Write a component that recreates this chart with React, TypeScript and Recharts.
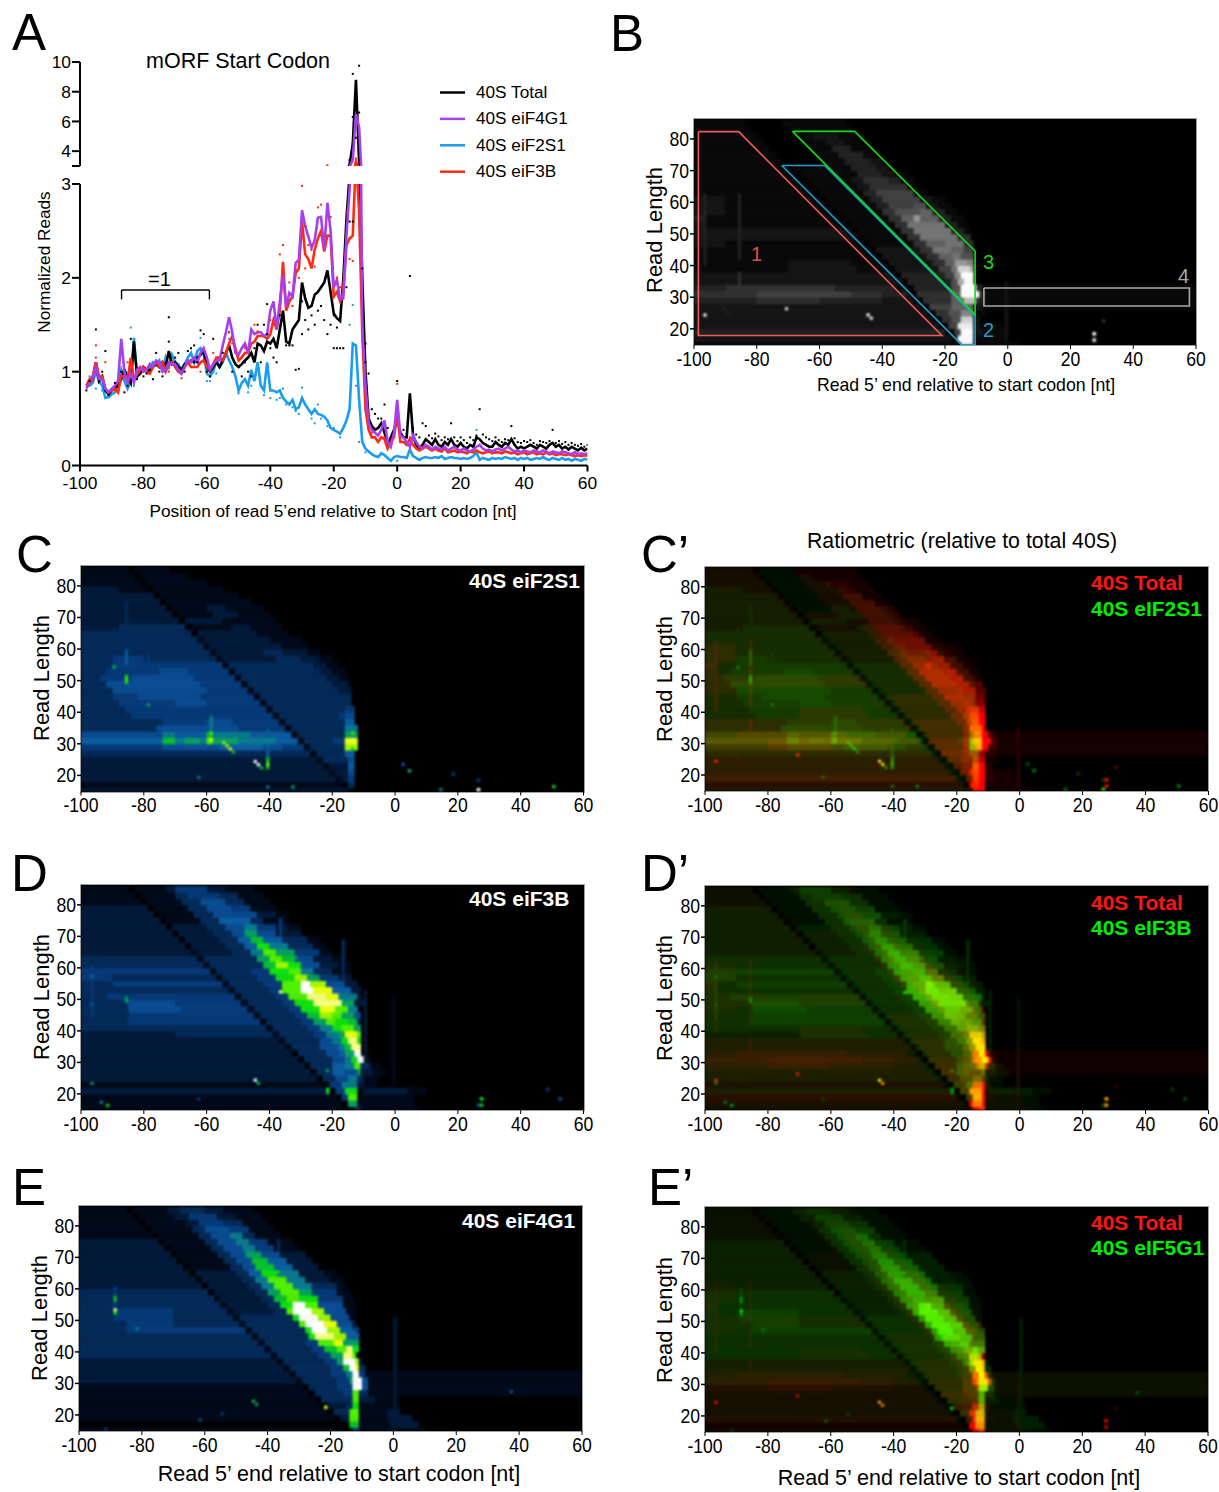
import React from 'react';
import { ComposedChart, ScatterChart, Scatter, Line, XAxis, YAxis, ReferenceLine } from 'recharts';

const FONT = '"Liberation Sans", Arial, sans-serif';

// ---------- Panel A ----------
const positions: number[] = [];
for (let p = -98; p <= 60; p++) positions.push(p);

const totalLine = [
  .85,.88,.92,1.1,.9,.95,.8,.76,.8,.82,
  .85,.92,1.02,.95,.88,1.32,.95,.98,1.05,1.02,
  1.0,1.05,1.08,1.05,1.1,1.05,1.22,1.08,1.1,1.05,
  1.02,1.08,1.1,1.12,1.1,1.15,1.18,1.22,1.05,1.0,
  1.05,1.1,1.05,1.12,1.2,1.28,1.15,1.08,1.05,1.08,
  1.12,1.15,1.2,1.1,1.3,1.28,1.22,1.32,1.3,1.35,
  1.25,1.45,1.65,1.32,1.3,1.45,1.5,1.55,1.95,1.78,
  1.68,1.7,1.82,1.85,1.9,1.95,2.08,1.85,1.62,1.57,
  1.54,1.98,2.62,3.1,4.5,8.8,3.2,2.0,1.0,.5,
  .42,.38,.4,.45,.35,.22,.3,.38,.5,.35,
  .3,.3,.77,.32,.22,.18,.22,.28,.25,.22,
  .28,.22,.2,.25,.22,.28,.22,.2,.24,.2,
  .18,.22,.2,.3,.28,.24,.22,.2,.2,.25,
  .22,.2,.24,.22,.28,.22,.18,.2,.18,.2,
  .22,.2,.18,.22,.2,.18,.22,.24,.2,.22,
  .18,.2,.17,.2,.18,.16,.19,.16,.18,
];
const eif2s1Line = [
  .85,.85,.88,1.0,.9,.85,.72,.73,.76,.78,
  .88,1.02,.9,.82,.9,1.36,.95,.98,1.03,1.0,
  1.05,1.1,1.08,1.12,1.02,1.15,1.05,1.18,1.1,1.08,
  1.02,1.08,1.15,1.2,1.1,1.22,1.25,1.18,.98,.95,
  1.0,1.12,1.05,1.1,1.2,1.12,1.05,.95,.8,.88,
  .92,.85,1.02,.9,1.1,.85,.8,1.1,.8,.8,
  .78,.8,.72,.68,.65,.7,.6,.62,.72,.65,
  .6,.55,.6,.55,.54,.52,.48,.4,.38,.36,
  .34,.4,.48,.6,1.3,1.28,.7,.25,.18,.15,
  .12,.1,.09,.13,.11,.08,.05,.09,.1,.09,
  .09,.08,.17,.1,.08,.06,.08,.09,.08,.08,
  .09,.08,.1,.07,.08,.09,.08,.08,.07,.08,
  .07,.08,.1,.14,.06,.08,.07,.06,.08,.07,
  .08,.07,.09,.08,.07,.08,.06,.08,.07,.08,
  .06,.07,.08,.07,.09,.07,.06,.08,.07,.06,
  .08,.06,.07,.05,.07,.06,.05,.07,.06,
];
const eif3bLine = [
  .85,.92,.95,1.1,.95,.95,.82,.78,.8,.82,
  .78,.95,.95,.9,1.15,.92,.97,1.02,1.05,1.0,
  .98,1.05,1.1,1.05,1.1,1.0,1.08,1.1,1.05,1.0,
  .98,1.05,1.1,1.05,1.05,1.05,1.1,1.12,1.05,1.02,
  1.08,1.15,1.15,1.12,1.2,1.3,1.38,1.25,1.12,1.15,
  1.2,1.2,1.3,1.32,1.38,1.38,1.38,1.35,1.4,1.55,
  1.45,1.65,2.17,1.65,1.75,1.8,2.05,2.1,2.6,2.25,
  2.2,2.1,2.3,2.42,2.5,2.28,2.45,2.45,1.8,1.85,
  1.75,1.85,2.35,2.42,2.45,3.3,2.7,1.4,.6,.38,
  .3,.3,.25,.3,.28,.18,.25,.3,.55,.25,
  .25,.22,.28,.22,.18,.16,.18,.2,.18,.16,
  .18,.16,.15,.18,.14,.15,.16,.14,.15,.14,
  .13,.15,.14,.16,.14,.13,.14,.15,.13,.14,
  .14,.13,.15,.14,.13,.14,.12,.13,.14,.12,
  .13,.14,.12,.13,.12,.14,.12,.13,.11,.12,
  .12,.11,.12,.11,.1,.11,.1,.11,.1,
];
const eif4g1Line = [
  .82,.88,.92,1.05,.92,.92,.82,.78,.82,.85,
  .9,1.35,1.0,.88,.98,.88,1.02,1.05,1.0,1.02,
  1.08,1.05,1.12,1.1,1.0,1.02,1.1,1.08,1.08,1.02,
  .98,1.05,1.12,1.1,1.15,1.1,1.2,1.25,1.15,1.02,
  1.08,1.12,1.12,1.28,1.42,1.58,1.42,1.2,1.18,1.25,
  1.3,1.2,1.45,1.4,1.42,1.42,1.38,1.4,1.65,1.75,
  1.45,1.75,2.03,1.69,1.84,1.8,2.16,2.19,2.72,2.55,
  2.44,2.32,2.4,2.64,2.65,2.3,2.8,2.5,1.9,1.98,
  1.77,1.78,2.44,2.95,3.4,6.5,5.6,1.5,.85,.45,
  .38,.35,.32,.38,.48,.25,.2,.35,.7,.32,
  .3,.25,.2,.32,.25,.2,.18,.22,.2,.17,
  .2,.18,.17,.2,.16,.18,.2,.17,.16,.18,
  .16,.15,.17,.2,.22,.18,.16,.17,.15,.17,
  .18,.16,.18,.2,.17,.15,.16,.14,.16,.15,
  .14,.16,.15,.14,.16,.15,.13,.15,.14,.13,
  .15,.14,.13,.12,.14,.12,.13,.12,.13,
];

const totalDots = [
  [-98,.8],[-97,.9],[-95,1.45],[-93,1.0],[-92,1.22],[-91,.75],[-89,.88],[-87,1.0],[-86,.78],[-85,.85],[-84,1.35],[-82,.92],[-80,.95],[-79,.98],[-78,1.02],[-77,.92],[-76,1.2],[-75,1.0],[-74,.95],[-72,1.58],[-72,1.32],[-70,1.15],[-69,1.2],[-67,1.0],[-66,1.22],[-65,1.25],[-64,1.28],[-63,1.1],[-62,1.44],[-61,1.4],[-60,1.0],[-59,.95],[-58,1.35],[-55,1.2],[-53,1.42],[-52,1.0],[-50,1.05],[-49,.95],[-48,1.1],[-47,1.0],[-46,.95],[-45,1.25],[-44,1.5],[-43,1.1],[-42,1.5],[-41,1.72],[-41,1.4],[-40,1.25],[-39,1.15],[-38,1.1],[-37,1.6],[-36,1.55],[-35,1.28],[-34,1.28],[-33,1.28],[-32,1.02],[-31,1.03],[-30,1.75],[-30,1.4],[-29,1.55],[-28,1.45],[-27,1.6],[-26,1.5],[-25,1.65],[-24,1.7],[-23,1.55],[-22,1.4],[-21,1.5],[-20,1.25],[-20,1.6],[-19,1.47],[-19,1.25],[-18,1.25],[-17,1.25],[-16,1.9],[-15,2.6],[-14,2.6],[-11,2.1],[-10,1.3],[-10,1.1],[-9,.98],[-8,.6],[-7,.55],[-6,.5],[-5,.5],[-4,.65],[-3,.4],[0,.9],[4,2.02],[8,.45],[9,.42],[17,.45],[26,.6],[36,.42],[49,.38],
  [2,.38],[3,.34],[5,.4],[6,.33],[7,.3],[10,.32],[11,.29],[12,.34],[13,.31],[14,.27],[15,.3],[16,.28],[18,.3],[19,.26],[20,.3],[21,.27],[22,.24],[23,.3],[24,.27],[25,.32],[27,.33],[28,.3],[29,.28],[30,.26],[31,.3],[32,.27],[33,.25],[34,.28],[35,.27],[37,.29],[38,.25],[39,.24],[40,.26],[41,.25],[42,.27],[43,.24],[44,.22],[45,.26],[46,.25],[47,.24],[48,.26],[50,.24],[51,.26],[52,.23],[53,.25],[54,.22],[55,.24],[56,.22],[57,.21],[58,.23],[59,.2],[60,.22],
  [-14,9.2],[-12,9.75],[-12,6.6],[-14,6.3],[-13,4.9],[-15,3.4],
];
const eif3bDots = [
  [-95,1.15],[-95,1.28],[-92,1.1],[-96,.9],[-88,.78],[-85,1.1],[-72,1.0],[-68,.93],[-62,1.0],[-58,1.2],[-53,1.42],[-52,1.3],[-48,1.25],[-45,1.5],[-44,1.43],[-40,1.55],[-37,2.25],[-36,2.35],[-34,1.95],[-33,1.7],[-32,2.08],[-31,2.0],[-30,2.98],[-29,2.55],[-28,2.35],[-29,2.1],[-27,2.3],[-26,2.12],[-25,2.75],[-24,2.78],[-23,2.45],[-21,2.65],[-19,2.0],[-18,1.9],[-16,2.7],[-15,2.2],[-14,2.18],[-12,2.65],[-10,1.0],[-9,.55],[0,.87],[-8,.35],[-4,.3],[4,.3],[8,.2],
  [-22,3.05],[-13,3.5],[-13,3.05],
];
const eif2s1Dots = [
  [-97,.95],[-95,.82],[-93,.8],[-84,1.47],[-83,.85],[-62,1.36],[-60,.9],[-59,.9],[-57,.98],[-53,1.35],[-50,.77],[-47,.78],[-46,.85],[-42,.75],[-40,.72],[-38,.7],[-37,.72],[-36,.82],[-35,.65],[-33,.62],[-32,.58],[-31,.55],[-30,.83],[-27,.5],[-26,.45],[-25,.65],[-24,.5],[-22,.42],[-20,.4],[-18,.3],[-15,1.5],[-14,1.71],[-13,.85],[-12,.25],[-10,.14],[25,.38],[0,.05],
];
const bracketSegments = [
  [[-86.9,1.77],[-86.9,1.87]],
  [[-86.9,1.87],[-59.2,1.87]],
  [[-59.2,1.87],[-59.2,1.77]],
];

const xTicks = [-100,-80,-60,-40,-20,0,20,40,60];
const yTicksHeat = [20,30,40,50,60,70,80];

const BLACK = '#000';
const PURPLE = '#a63ff0';
const BLUE = '#1a9cf0';
const RED = '#ff2a10';
const legendEntries = [
  { label: '40S Total', color: BLACK },
  { label: '40S eiF4G1', color: PURPLE },
  { label: '40S eiF2S1', color: BLUE },
  { label: '40S eiF3B', color: RED },
];

// ---------- Heat maps: runs per read-length row [xStart, level, xStart, level ...] ----------
const rowLengths = [85,83,81,79,77,75,73,71,69,67,65,63,61,59,57,55,53,51,49,47,45,43,41,39,37,35,33,31,29,27,25,23,21,19,17,15];

const totalRows = [
  [-100,1,-84,0,-72,1,-52,0],
  [-100,1,-82,0,-70,1,-50,0],
  [-100,1,-80,0,-68,1,-62,2,-54,1,-48,0],
  [-100,1,-78,0,-66,1,-58,2,-52,1,-46,0],
  [-100,1,-76,0,-64,1,-56,3,-50,1,-44,0],
  [-100,1,-74,0,-62,1,-54,3,-46,1,-42,0],
  [-100,1,-72,0,-60,1,-52,3,-44,2,-40,0],
  [-100,1,-70,0,-68,1,-50,3,-42,2,-38,0],
  [-100,1,-68,0,-66,1,-48,3,-40,2,-36,1,-32,0],
  [-100,1,-66,0,-64,1,-50,2,-46,4,-38,3,-34,1,-30,0],
  [-100,1,-64,0,-62,1,-48,2,-44,4,-36,4,-32,1,-28,0],
  [-100,1,-62,0,-60,1,-46,3,-42,5,-36,5,-30,1,-26,0],
  [-100,2,-90,1,-60,0,-58,1,-44,3,-40,5,-32,5,-28,2,-24,1,-20,0],
  [-100,2,-90,1,-58,0,-56,1,-42,3,-38,5,-30,6,-26,2,-22,1,-18,0],
  [-100,2,-90,1,-56,0,-54,1,-40,4,-36,6,-28,7,-24,3,-20,1,-16,0],
  [-100,3,-96,1,-54,0,-52,1,-38,4,-34,7,-30,10,-28,7,-22,3,-18,1,-14,0],
  [-100,2,-96,1,-52,0,-50,1,-36,4,-32,8,-26,8,-20,3,-16,1,-13,0],
  [-100,2,-96,2,-50,0,-48,1,-34,4,-30,8,-24,8,-18,3,-14,1,-12,0],
  [-100,2,-48,0,-46,1,-32,4,-28,8,-22,8,-16,4,-12,0],
  [-100,2,-90,1,-46,0,-44,1,-30,4,-26,7,-20,8,-14,4,-11,0],
  [-100,1,-44,0,-42,2,-28,4,-24,8,-18,7,-14,5,-11,0],
  [-100,1,-42,0,-40,2,-26,4,-22,7,-18,8,-15,6,-11,0],
  [-100,1,-70,2,-50,1,-40,0,-38,2,-24,4,-20,7,-17,10,-13,9,-11,0],
  [-100,1,-70,2,-48,1,-38,0,-36,2,-22,5,-18,8,-16,13,-12,11,-11,0],
  [-100,2,-36,0,-34,3,-20,5,-17,9,-15,15,-11,0],
  [-100,2,-34,0,-32,3,-18,6,-16,11,-14,15,-11,0],
  [-100,3,-90,4,-55,3,-36,1,-32,0,-30,3,-18,6,-15,15,-10,3,-8,1],
  [-100,4,-80,5,-50,4,-40,3,-32,0,-29,4,-18,7,-15,15,-9,3,-7,1],
  [-100,3,-80,4,-60,3,-40,2,-30,0,-27,4,-18,7,-14,12,-10,3,-7,1],
  [-100,2,-28,0,-25,5,-18,7,-14,7,-11,2,-8,1],
  [-100,2,-26,0,-23,4,-19,6,-15,9,-11,1,-7,0],
  [-100,2,-24,0,-21,4,-18,6,-15,13,-11,2,-9,0],
  [-100,2,-22,0,-19,5,-16,14,-11,2,-9,1,-2,0],
  [-100,3,-20,0,-17,5,-15,15,-11,2,-8,1,-1,0],
  [-100,2,-18,0,-16,15,-11,1,0,0],
  [-100,1,-16,0,-15,14,-11,1,4,0],
];
const totalStripes = [[-97,40,62,3],[-86,42,62,3],[-86,30,37,4],[-1,16,34,2]];
const totalSpots = [[-97,24,15],[-71,26,13],[-45,24,15],[-44,23,14],[27,18,15],[27,16,14],[30,22,4],[-91,26,3],[-90,25,3],[-89,24,3]];

const eif2s1Rows = [
  [-100,1,-85,0,-83,1,-72,0],
  [-100,1,-83,0,-81,1,-66,0],
  [-100,1,-81,0,-79,1,-60,0],
  [-100,2,-88,1,-79,0,-77,1,-55,0],
  [-100,2,-77,0,-75,1,-50,0],
  [-100,2,-75,0,-73,1,-46,0],
  [-100,2,-73,0,-71,1,-60,2,-54,1,-42,0],
  [-100,2,-71,0,-69,1,-58,2,-50,1,-40,0],
  [-100,2,-69,0,-67,2,-55,1,-38,0],
  [-100,2,-88,3,-67,0,-65,1,-52,2,-46,1,-36,0],
  [-100,3,-65,0,-63,2,-44,1,-34,0],
  [-100,3,-63,1,-61,2,-40,1,-30,0],
  [-100,3,-61,1,-59,2,-36,1,-28,0],
  [-100,3,-59,1,-57,2,-42,3,-36,2,-28,1,-24,0],
  [-100,3,-90,4,-80,3,-57,1,-55,2,-38,3,-30,2,-24,1,-20,0],
  [-100,3,-90,4,-55,1,-53,3,-26,2,-22,1,-18,0],
  [-100,3,-92,4,-75,5,-66,4,-53,1,-51,3,-24,2,-20,1,-16,0],
  [-100,3,-94,4,-84,5,-64,4,-51,1,-49,3,-22,2,-18,1,-15,0],
  [-100,3,-92,5,-62,4,-49,1,-47,3,-20,2,-15,1,-14,0],
  [-100,3,-90,5,-60,4,-47,1,-45,3,-18,2,-14,0],
  [-100,3,-90,4,-82,5,-62,4,-45,1,-43,3,-14,0],
  [-100,3,-88,4,-70,5,-60,4,-43,1,-41,3,-14,0],
  [-100,3,-86,4,-41,1,-39,3,-16,4,-13,0],
  [-100,3,-84,4,-39,1,-37,3,-18,4,-16,5,-13,0],
  [-100,3,-74,4,-60,5,-52,4,-37,1,-35,3,-16,6,-13,0],
  [-100,3,-76,5,-50,4,-35,1,-33,3,-16,7,-12,0],
  [-100,5,-74,7,-70,6,-60,9,-58,7,-46,6,-33,1,-31,3,-16,8,-12,0],
  [-100,6,-74,9,-70,7,-67,8,-62,7,-60,11,-58,8,-50,7,-38,6,-31,1,-29,3,-20,4,-16,13,-12,0],
  [-100,4,-74,5,-56,6,-42,5,-36,4,-29,1,-27,3,-16,12,-12,0],
  [-100,3,-27,1,-25,3,-16,6,-13,0],
  [-100,2,-25,1,-23,3,-15,5,-13,0],
  [-100,2,-23,1,-21,2,-15,6,-13,0],
  [-100,2,-21,1,-19,2,-15,5,-13,0],
  [-100,2,-19,1,-17,2,-15,4,-13,0],
  [-100,1,-17,0,-15,3,-13,0],
  [-100,2,-15,0],
];
const eif2s1Stripes = [[-86,52,74,3],[-90,56,66,3],[-86,55,59,6],[-79,44,58,4],[-41,25,34,6],[-55,34,40,4],[-59,33,38,7]];
const eif2s1Spots = [[-90,54,9],[-86,50,11],[-86,51,10],[-86,49,10],[-79,42,8],[-59,33,11],[-59,31,13],[-55,30,12],[-54,29,12],[-53,28,13],[-52,27,9],[-45,24,15],[-44,23,15],[-43,22,9],[-41,25,9],[-41,24,10],[-41,23,12],[-41,22,9],[-63,19,7],[-33,16,8],[-41,16,7],[4,21,8],[2,23,5],[18,20,4],[14,15,7],[26,15,15],[26,18,4],[50,16,9],[-14,31,14],[-13,30,13],[-13,29,12],[-14,28,10],[-14,33,11]];

const eif3bRows = [
  [-100,1,-85,0,-83,1,-73,2,-70,4,-60,2,-54,1,-45,0],
  [-100,1,-83,0,-81,1,-70,3,-66,4,-56,3,-50,1,-42,0],
  [-100,1,-81,0,-79,1,-68,3,-62,5,-54,3,-48,1,-40,0],
  [-100,2,-79,0,-77,1,-66,3,-60,5,-52,4,-46,1,-38,0],
  [-100,2,-77,0,-75,1,-64,3,-58,5,-50,5,-44,2,-38,1,-34,0],
  [-100,2,-75,0,-73,1,-62,3,-56,6,-46,3,-42,1,-34,0],
  [-100,2,-73,0,-71,2,-60,3,-54,5,-48,7,-44,4,-38,2,-34,1,-30,0],
  [-100,2,-71,0,-69,2,-58,3,-52,5,-48,8,-44,5,-38,2,-30,0],
  [-100,2,-69,0,-67,2,-56,3,-50,6,-46,9,-42,6,-36,3,-28,1,-24,0],
  [-100,2,-67,0,-65,2,-54,3,-48,6,-44,10,-40,7,-34,3,-26,1,-22,0],
  [-100,2,-65,1,-63,2,-52,3,-46,7,-42,11,-38,8,-32,4,-24,1,-20,0],
  [-100,3,-63,1,-61,3,-50,3,-44,8,-40,11,-36,9,-32,5,-26,2,-20,1,-16,0],
  [-100,3,-61,1,-59,3,-48,3,-42,9,-38,12,-34,10,-30,5,-24,2,-18,1,-14,0],
  [-100,4,-59,1,-57,3,-46,4,-40,10,-34,11,-30,7,-26,3,-20,1,-14,0],
  [-100,4,-90,3,-57,1,-55,3,-44,4,-38,10,-32,12,-28,8,-24,4,-18,2,-14,0],
  [-100,3,-90,4,-55,1,-53,3,-42,4,-36,11,-30,15,-27,12,-22,5,-16,2,-12,0],
  [-100,3,-53,1,-51,3,-40,4,-36,11,-30,15,-26,13,-20,6,-14,2,-11,0],
  [-100,3,-92,4,-51,1,-49,3,-38,4,-34,11,-28,14,-22,13,-18,7,-12,2,-11,0],
  [-100,3,-85,5,-70,4,-49,1,-47,3,-36,4,-32,10,-26,14,-17,8,-13,2,-10,0],
  [-100,3,-85,5,-68,4,-47,1,-45,3,-34,4,-30,10,-24,13,-19,11,-15,7,-12,0],
  [-100,3,-85,4,-45,1,-43,3,-32,4,-28,9,-24,12,-20,11,-17,8,-13,5,-11,0],
  [-100,3,-85,4,-43,1,-41,3,-30,4,-26,8,-22,11,-19,10,-15,9,-12,3,-11,0],
  [-100,3,-41,1,-39,3,-28,4,-24,7,-20,10,-17,11,-13,8,-11,0],
  [-100,2,-70,3,-39,1,-37,3,-26,4,-22,7,-18,8,-16,13,-12,11,-11,0],
  [-100,2,-37,1,-35,3,-24,5,-20,7,-17,10,-15,14,-12,10,-11,0],
  [-100,2,-35,1,-33,3,-24,5,-18,7,-16,9,-14,14,-11,0],
  [-100,2,-33,0,-31,3,-22,5,-18,6,-16,8,-13,15,-11,0],
  [-100,2,-31,0,-29,3,-20,5,-16,7,-14,10,-12,15,-10,1,-8,0],
  [-100,2,-29,0,-27,3,-20,6,-16,7,-13,11,-11,3,-8,1,-5,0],
  [-100,2,-27,0,-25,3,-20,6,-16,5,-12,8,-11,2,-7,1,-3,0],
  [-100,2,-25,0,-23,3,-19,5,-15,7,-12,3,-10,1,-5,0],
  [-100,1,-23,0,-21,4,-17,7,-12,2,-10,1,-6,0],
  [-100,2,-21,0,-19,4,-16,10,-12,1,-10,2,4,1,10,0],
  [-100,1,-19,0,-17,4,-15,11,-12,1,6,0],
  [-100,1,-17,0,-15,8,-12,1,6,0],
  [-100,1,-15,0,-13,3,-11,1,8,0],
];
const eif3bStripes = [[-86,40,58,3],[-37,62,75,4],[-17,55,68,3],[-97,44,60,4],[-10,30,52,2],[-1,20,50,1]];
const eif3bSpots = [[-97,23,8],[-92,16,10],[-94,17,7],[-45,24,15],[-44,23,9],[-22,21,10],[-22,20,9],[-22,27,8],[-63,18,4],[27,18,10],[27,16,9],[26,16,5],[52,18,5],[48,21,4],[-86,49,8],[-86,50,8],[-97,48,6],[-97,57,7],[-37,52,14],[-32,63,8]];

const eif4g1Rows = [
  [-100,1,-85,0,-83,1,-72,2,-68,3,-60,2,-54,1,-45,0],
  [-100,1,-83,0,-81,1,-70,2,-65,4,-56,2,-50,1,-42,0],
  [-100,1,-81,0,-79,1,-66,2,-62,4,-54,3,-48,1,-40,0],
  [-100,1,-79,0,-77,1,-64,3,-60,5,-52,4,-46,1,-38,0],
  [-100,1,-77,0,-75,1,-62,3,-58,5,-52,7,-48,3,-44,1,-36,0],
  [-100,2,-75,0,-73,1,-60,3,-56,5,-50,7,-46,4,-40,1,-32,0],
  [-100,2,-73,0,-71,1,-58,3,-54,5,-48,7,-44,4,-38,1,-30,0],
  [-100,2,-71,0,-69,1,-56,3,-52,5,-47,8,-42,5,-36,2,-28,0],
  [-100,2,-69,0,-67,1,-54,3,-50,5,-45,9,-40,6,-34,2,-26,0],
  [-100,2,-67,0,-65,1,-52,3,-48,5,-44,9,-38,6,-32,2,-24,0],
  [-100,2,-65,0,-63,2,-50,3,-46,6,-42,10,-36,7,-30,2,-22,1,-18,0],
  [-100,2,-63,0,-61,2,-48,3,-44,7,-40,11,-34,7,-28,2,-20,1,-16,0],
  [-100,2,-61,0,-59,2,-46,3,-42,7,-38,11,-32,7,-26,3,-18,1,-15,0],
  [-100,3,-59,0,-57,2,-44,3,-40,8,-36,11,-30,8,-26,4,-18,1,-14,0],
  [-100,3,-57,1,-55,2,-42,3,-38,9,-34,11,-30,10,-24,4,-16,1,-13,0],
  [-100,3,-55,1,-53,2,-40,3,-36,10,-32,15,-28,11,-24,5,-16,1,-12,0],
  [-100,3,-88,4,-70,3,-53,1,-51,2,-38,3,-34,11,-32,15,-26,12,-22,5,-15,1,-12,0],
  [-100,3,-88,4,-70,3,-51,1,-49,3,-32,10,-30,15,-24,12,-20,5,-14,1,-12,0],
  [-100,3,-85,4,-70,3,-49,1,-47,3,-30,11,-28,15,-22,13,-18,5,-13,2,-12,0],
  [-100,3,-85,4,-47,1,-45,3,-28,10,-26,15,-21,12,-17,6,-13,4,-11,0],
  [-100,3,-45,1,-43,3,-27,10,-25,14,-19,12,-15,6,-11,0],
  [-100,3,-43,1,-41,3,-28,4,-24,11,-19,13,-16,8,-11,0],
  [-100,3,-41,1,-39,3,-26,4,-22,9,-18,11,-15,14,-13,10,-11,0],
  [-100,3,-39,1,-37,3,-24,4,-20,8,-16,14,-13,11,-12,0],
  [-100,2,-37,1,-35,3,-22,4,-18,8,-16,15,-12,12,-11,2,-10,0],
  [-100,2,-35,1,-33,3,-20,4,-16,9,-14,15,-12,13,-11,3,-9,0],
  [-100,2,-33,1,-31,3,-20,4,-15,7,-13,15,-11,4,-9,1],
  [-100,2,-31,1,-29,3,-18,4,-14,8,-13,15,-10,5,-8,1],
  [-100,1,-29,0,-27,3,-18,4,-13,15,-10,5,-8,1],
  [-100,1,-27,0,-25,3,-16,4,-13,11,-11,3,-8,1],
  [-100,1,-25,0,-23,3,-13,11,-11,2,-6,1,0,0],
  [-100,1,-23,0,-21,2,-15,3,-13,10,-11,1,-4,1,2,0],
  [-100,1,-21,0,-19,3,-14,11,-11,1,-2,2,2,0],
  [-100,1,-19,0,-17,2,-14,11,-11,1,-2,2,6,0],
  [-100,0,-14,9,-11,1,-1,2,8,0],
  [-100,1,-16,0,-13,4,-11,1,-1,1,10,0],
];
const eif4g1Stripes = [[-89,50,60,4],[-37,63,75,3],[0,15,50,2],[-13,40,46,6]];
const eif4g1Spots = [[-89,53,14],[-89,52,10],[-89,57,9],[-89,56,9],[-45,24,9],[-44,23,8],[-22,22,13],[-82,47,7],[37,27,5],[-62,18,5],[-55,20,4],[-92,15,4],[-37,64,7]];

// Panel B annotation outlines, in axis units
const outlines = [
  { color: '#ef5a5a', pts: [[-98.6,82.3],[-85.75,82.3],[-21,17.9],[-98.6,17.9],[-98.6,82.3]] },
  { color: '#1c9fd0', pts: [[-72,71.6],[-58.4,71.6],[-10.4,24],[-10.4,15],[-14.7,15],[-72,71.6]] },
  { color: '#14dc14', pts: [[-68.6,82.4],[-48.8,82.4],[-10.4,44.6],[-10.4,24.5],[-68.6,82.4]] },
  { color: '#a8a8a8', pts: [[-7.6,32.9],[57.9,32.9],[57.9,27.2],[-7.6,27.2],[-7.6,32.9]] },
];

// ---------- colours ----------
const blueMapColors = ['#000004','#010a1a','#021a3a','#042a58','#063a78','#0a4c92','#0c5ca0','#0a7a90','#08a060','#08c030','#10e010','#50f000','#a0f800','#e8ff10','#f8ff80','#ffffff'];
const hex2 = (n: number) => Math.max(0, Math.min(255, Math.round(n))).toString(16).padStart(2, '0');
const grayColor = (l: number) => { const v = 255 * Math.pow(l / 15, 1.25); return '#' + hex2(v) + hex2(v) + hex2(v); };

type Grid = number[][];
const K0 = 15;
const K1 = 85;
function toGrid(rows: number[][], stripes: number[][], spots: number[][]): Grid {
  const g: Grid = [];
  for (let k = K0; k <= K1; k++) g[k] = new Array(160).fill(0);
  rows.forEach((r, i) => {
    const L = rowLengths[i];
    for (let j = 0; j < r.length; j += 2) {
      const from = r[j], lvl = r[j + 1], to = j + 2 < r.length ? r[j + 2] : 60;
      for (let x = Math.floor(from); x < to; x++) {
        [L - 1, L].forEach((k) => { if (g[k]) g[k][x + 100] = lvl; });
      }
    }
  });
  stripes.forEach(([x, a, b, lvl]) => { for (let k = a; k <= b; k++) if (g[k]) g[k][x + 100] = Math.max(g[k][x + 100], lvl); });
  spots.forEach(([x, L, lvl]) => { if (g[L]) g[L][x + 100] = lvl; });
  return g;
}
type Cell = { x: number; y: number; w: number; fill: string };
function toCells(colorAt: (k: number, i: number) => string): Cell[] {
  const out: Cell[] = [];
  for (let k = K0; k <= K1; k++) {
    let start = 0;
    let cur = colorAt(k, 0);
    for (let i = 1; i <= 160; i++) {
      const c = i < 160 ? colorAt(k, i) : '';
      if (c !== cur) {
        if (cur !== '#000000') out.push({ x: start - 100 + (i - start) / 2, y: k + 0.5, w: i - start, fill: cur });
        start = i;
        cur = c;
      }
    }
  }
  return out;
}
const totalGrid = toGrid(totalRows, totalStripes, totalSpots);
const eif2s1Grid = toGrid(eif2s1Rows, eif2s1Stripes, eif2s1Spots);
const eif3bGrid = toGrid(eif3bRows, eif3bStripes, eif3bSpots);
const eif4g1Grid = toGrid(eif4g1Rows, eif4g1Stripes, eif4g1Spots);

const singleCells = (g: Grid) => toCells((k, i) => { const l = g[k][i]; return l === 0 ? '#000000' : blueMapColors[l]; });
const ratioCells = (g: Grid, redGain: number, greenGain: number) =>
  toCells((k, i) => {
    const t = totalGrid[k][i];
    const r = redGain * t * (t > 10 ? t / 10 : 1);
    const gr = greenGain * g[k][i];
    return '#' + hex2(r) + hex2(gr) + '00';
  });

// Heat-map tick labels are set slightly condensed, as in the figure.
const SQUEEZE = 0.88;
const heatTickX = (p: any) => (
  <g transform={`translate(${p.x},${p.y})`}>
    <text transform={`scale(${SQUEEZE},1)`} fontSize={20} fontFamily={FONT} fill="#000" textAnchor="middle" y={14.5}>{p.payload.value}</text>
  </g>
);
const heatTickY = (p: any) => (
  <g transform={`translate(${p.x},${p.y})`}>
    <text transform={`scale(${SQUEEZE},1)`} fontSize={20} fontFamily={FONT} fill="#000" textAnchor="end" y={7}>{p.payload.value}</text>
  </g>
);
const YMIN = 14.9;
const YMAX = 86.3;

function Heat({ fx, fy, fw, fh, cells, outlined }: { fx: number; fy: number; fw: number; fh: number; cells: Cell[]; outlined?: boolean }) {
  const LEFT = 40, RIGHT = 24, TOP = 10, BOTTOM = 34;
  const pxX = fw / 160;
  const pxY = fh / (YMAX - YMIN);
  const shape = (p: any) => {
    const c: Cell = p.payload;
    const w = c.w * pxX;
    return <rect x={p.cx - w / 2} y={p.cy - pxY / 2} width={w + 0.4} height={pxY + 0.4} fill={c.fill} />;
  };
  return (
    <>
      <div style={{ position: 'absolute', left: fx - 1, top: fy - 1, width: fw, height: fh, background: '#000', border: '1px solid #a0a0a0' }} />
      <div style={{ position: 'absolute', left: fx, top: fy, width: fw, height: fh, overflow: 'hidden' }}>
        <div style={{ filter: 'blur(1.1px)' }}>
          <ScatterChart width={fw} height={fh} margin={{ top: 0, right: 0, bottom: 0, left: 0 }}>
            <XAxis type="number" dataKey="x" domain={[-100, 60]} allowDataOverflow hide />
            <YAxis type="number" dataKey="y" domain={[YMIN, YMAX]} allowDataOverflow hide />
            <Scatter data={cells} shape={shape} isAnimationActive={false} />
          </ScatterChart>
        </div>
      </div>
      <div style={{ position: 'absolute', left: fx - LEFT, top: fy - TOP }}>
        <ScatterChart width={fw + LEFT + RIGHT} height={fh + TOP + BOTTOM} margin={{ top: TOP, right: RIGHT, bottom: 0, left: 0 }}>
          <XAxis type="number" dataKey="x" domain={[-100, 60]} ticks={xTicks} interval={0} allowDataOverflow height={BOTTOM} tick={heatTickX} tickLine={{ stroke: '#000' }} tickSize={4} tickMargin={2} axisLine={false} />
          <YAxis type="number" dataKey="y" domain={[YMIN, YMAX]} ticks={yTicksHeat} interval={0} allowDataOverflow width={LEFT} tick={heatTickY} tickLine={{ stroke: '#000', strokeWidth: 1.5 }} tickSize={4} tickMargin={1} axisLine={false} />
          {outlined && outlines.map((o, oi) => (
            <Scatter
              key={oi}
              data={o.pts.map(([x, y]) => ({ x, y }))}
              line={{ stroke: o.color, strokeWidth: 1.6 }}
              shape={() => null}
              isAnimationActive={false}
            />
          ))}
        </ScatterChart>
      </div>
    </>
  );
}

const lineRows = positions.map((x, i) => ({
  x,
  total: totalLine[i],
  eif2s1: eif2s1Line[i],
  eif3b: eif3bLine[i],
  eif4g1: eif4g1Line[i],
}));
const toPts = (d: number[][]) => d.map(([x, y]) => ({ x, y }));
const dot = (color: string) => (p: any) => <rect x={p.cx - 1} y={p.cy - 1} width={2} height={2} fill={color} />;

function ProfilePanel({ top, height, domain, ticks, showX, hideTick }: { top: number; height: number; domain: number[]; ticks: number[]; showX: boolean; hideTick?: number }) {
  const LEFT = 60, RIGHT = 24, TOP = 14, BOTTOM = 34;
  const inRange = (d: number[][]) => toPts(d.filter(([, y]) => y >= domain[0] && y <= domain[1]));
  const tick = { fontSize: 17.4, fontFamily: FONT, fill: '#000' };
  const axisLine = { stroke: '#000', strokeWidth: 2 };
  return (
    <div style={{ position: 'absolute', left: 79.5 - LEFT, top: top - TOP }}>
      <ComposedChart data={lineRows} width={507.5 + LEFT + RIGHT} height={height + TOP + (showX ? BOTTOM : 2)} margin={{ top: TOP, right: RIGHT, bottom: showX ? 0 : 2, left: 0 }}>
        <XAxis type="number" dataKey="x" domain={[-100, 60]} ticks={xTicks} interval={0} allowDataOverflow hide={!showX} height={BOTTOM} tick={tick} tickLine={{ stroke: '#000', strokeWidth: 2 }} axisLine={axisLine} tickSize={6} tickMargin={5} />
        <YAxis type="number" dataKey="y" domain={domain} ticks={ticks} interval={0} allowDataOverflow width={LEFT} tick={tick} tickLine={{ stroke: '#000', strokeWidth: 2 }} axisLine={axisLine} tickSize={8} tickMargin={1} tickFormatter={(v: number) => (v === hideTick ? '' : String(v))} />
        <Scatter data={inRange(eif2s1Dots)} dataKey="y" shape={dot(BLUE)} isAnimationActive={false} />
        <Scatter data={inRange(totalDots)} dataKey="y" shape={dot(BLACK)} isAnimationActive={false} />
        <Scatter data={inRange(eif3bDots)} dataKey="y" shape={dot(RED)} isAnimationActive={false} />
        <Line dataKey="eif2s1" stroke={BLUE} strokeWidth={2.6} dot={false} isAnimationActive={false} />
        <Line dataKey="total" stroke={BLACK} strokeWidth={2.6} dot={false} isAnimationActive={false} />
        <Line dataKey="eif3b" stroke={RED} strokeWidth={2.6} dot={false} isAnimationActive={false} />
        <Line dataKey="eif4g1" stroke={PURPLE} strokeWidth={2.6} dot={false} isAnimationActive={false} />
        {showX && bracketSegments.map((s, i) => (
          <ReferenceLine key={i} segment={[{ x: s[0][0], y: s[0][1] }, { x: s[1][0], y: s[1][1] }]} stroke="#000" strokeWidth={1.4} />
        ))}
      </ComposedChart>
    </div>
  );
}

function Txt({ x, y, size, children, anchor, weight, fill, rot }: any) {
  return (
    <text x={x} y={y} fontSize={size} fontFamily={FONT} textAnchor={anchor || 'start'} fontWeight={weight || 'normal'} fill={fill || '#000'} transform={rot ? `rotate(-90 ${x} ${y})` : undefined}>
      {children}
    </text>
  );
}

const cellsB = toCells((k, i) => { const l = totalGrid[k][i]; return l === 0 ? '#000000' : grayColor(l); });
const cellsC = singleCells(eif2s1Grid);
const cellsD = singleCells(eif3bGrid);
const cellsE = singleCells(eif4g1Grid);
const cellsCr = ratioCells(eif2s1Grid, 22, 15);
const cellsDr = ratioCells(eif3bGrid, 14, 16);
const cellsEr = ratioCells(eif4g1Grid, 11, 16);

export default function App() {
  return (
    <div style={{ position: 'absolute', left: 0, top: 0, width: 1219, height: 1492, background: '#fff', overflow: 'hidden', fontFamily: FONT }}>
      <ProfilePanel top={62} height={104} domain={[3, 10]} ticks={[3, 4, 6, 8, 10]} showX={false} hideTick={3} />
      <ProfilePanel top={184} height={281.5} domain={[0, 3]} ticks={[0, 1, 2, 3]} showX />

      <Heat fx={694} fy={119} fw={502} fh={226} cells={cellsB} outlined />
      <Heat fx={81} fy={566} fw={502.5} fh={225.5} cells={cellsC} />
      <Heat fx={704.5} fy={567} fw={503.5} fh={224} cells={cellsCr} />
      <Heat fx={81} fy={885} fw={502.5} fh={225} cells={cellsD} />
      <Heat fx={704.5} fy={886} fw={503.5} fh={224} cells={cellsDr} />
      <Heat fx={79} fy={1206} fw={503} fh={225} cells={cellsE} />
      <Heat fx={705} fy={1207} fw={503} fh={225} cells={cellsEr} />

      <svg width={1219} height={1492} style={{ position: 'absolute', left: 0, top: 0, pointerEvents: 'none' }}>
        <Txt x={12} y={50} size={51}>A</Txt>
        <Txt x={610} y={51} size={51}>B</Txt>
        <Txt x={16} y={572} size={51}>C</Txt>
        <Txt x={641} y={572} size={51}>C’</Txt>
        <Txt x={11} y={891} size={51}>D</Txt>
        <Txt x={641} y={891} size={51}>D’</Txt>
        <Txt x={12} y={1205} size={51}>E</Txt>
        <Txt x={648} y={1205} size={51}>E’</Txt>

        <Txt x={238} y={68} size={21.5} anchor="middle">mORF Start Codon</Txt>
        <Txt x={50} y={262} size={17.2} anchor="middle" rot>Normalized Reads</Txt>
        <Txt x={333} y={517} size={17.2} anchor="middle">Position of read 5’end relative to Start codon [nt]</Txt>
        <Txt x={159.5} y={286} size={20} anchor="middle">=1</Txt>
        {legendEntries.map((e, i) => (
          <g key={e.label}>
            <line x1={440} x2={465} y1={92.5 + i * 26.4} y2={92.5 + i * 26.4} stroke={e.color} strokeWidth={2.5} />
            <Txt x={476} y={98 + i * 26.4} size={17.2}>{e.label}</Txt>
          </g>
        ))}

        <Txt x={966} y={391} size={17.7} anchor="middle">Read 5’ end relative to start codon [nt]</Txt>
        <Txt x={662} y={230} size={22} anchor="middle" rot>Read Length</Txt>
        <Txt x={751} y={261} size={20} fill="#d9534f">1</Txt>
        <Txt x={983} y={337} size={20} fill="#1c9fd0">2</Txt>
        <Txt x={983} y={269} size={20} fill="#14dc14">3</Txt>
        <Txt x={1178} y={283} size={20} fill="#a8a8a8">4</Txt>

        <Txt x={49} y={678} size={22} anchor="middle" rot>Read Length</Txt>
        <Txt x={672} y={679} size={22} anchor="middle" rot>Read Length</Txt>
        <Txt x={49} y={997} size={22} anchor="middle" rot>Read Length</Txt>
        <Txt x={672} y={998} size={22} anchor="middle" rot>Read Length</Txt>
        <Txt x={47} y={1318} size={22} anchor="middle" rot>Read Length</Txt>
        <Txt x={672} y={1320} size={22} anchor="middle" rot>Read Length</Txt>

        <Txt x={469} y={588} size={21} weight="bold" fill="#fff">40S eiF2S1</Txt>
        <Txt x={469} y={906} size={21} weight="bold" fill="#fff">40S eiF3B</Txt>
        <Txt x={462} y={1228} size={21} weight="bold" fill="#fff">40S eiF4G1</Txt>

        <Txt x={962} y={548} size={21.3} anchor="middle">Ratiometric (relative to total 40S)</Txt>
        <Txt x={1091} y={590} size={21} weight="bold" fill="#ff1414">40S Total</Txt>
        <Txt x={1091} y={615.5} size={21} weight="bold" fill="#00ee00">40S eIF2S1</Txt>
        <Txt x={1091} y={910} size={21} weight="bold" fill="#ff1414">40S Total</Txt>
        <Txt x={1091} y={935} size={21} weight="bold" fill="#00ee00">40S eIF3B</Txt>
        <Txt x={1091} y={1230} size={21} weight="bold" fill="#ff1414">40S Total</Txt>
        <Txt x={1091} y={1255} size={21} weight="bold" fill="#00ee00">40S eIF5G1</Txt>

        <Txt x={339} y={1481} size={21.5} anchor="middle">Read 5’ end relative to start codon [nt]</Txt>
        <Txt x={959} y={1485} size={21.5} anchor="middle">Read 5’ end relative to start codon [nt]</Txt>
      </svg>
    </div>
  );
}
